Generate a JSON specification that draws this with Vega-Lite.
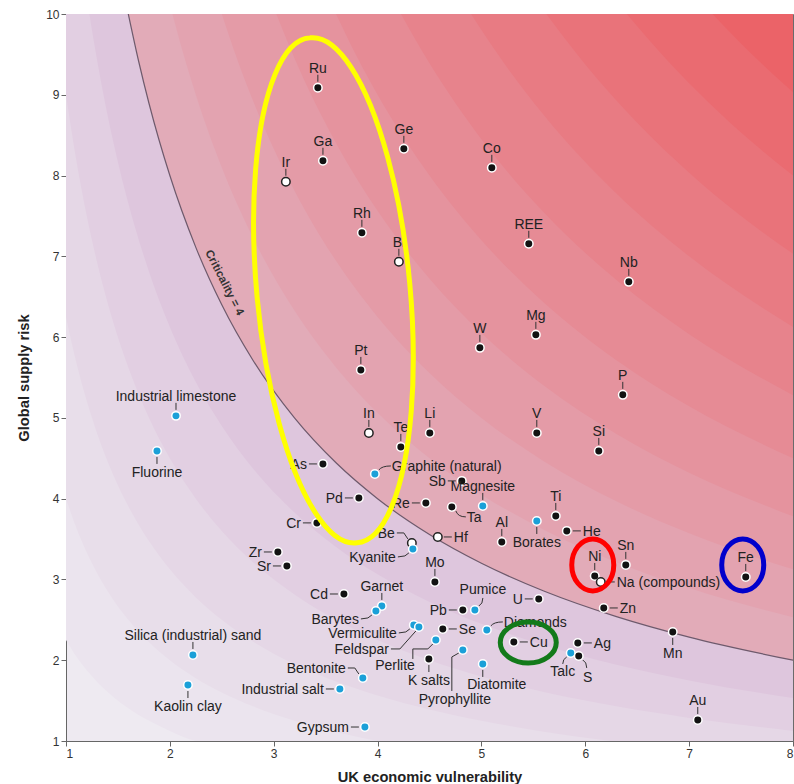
{
"$schema": "https://vega.github.io/schema/vega-lite/v6.json",
"width": 727, "height": 727,
"autosize": {"type": "none"},
"padding": {"left": 66, "top": 14, "right": 1, "bottom": 43},
"background": "white",
"config": {
  "view": {"stroke": "#6b6b6b", "strokeWidth": 1, "fill": "#eeeaf1"},
  "font": "Liberation Sans"
},
"datasets": {
"bands": [
{"level":1.5,"x":1,"y":2.25},{"level":1.5,"x":1.1,"y":2.045},{"level":1.5,"x":1.2,"y":1.875},{"level":1.5,"x":1.3,"y":1.731},{"level":1.5,"x":1.45,"y":1.552},{"level":1.5,"x":1.6,"y":1.406},{"level":1.5,"x":1.8,"y":1.25},{"level":1.5,"x":2,"y":1.125},{"level":1.5,"x":2.25,"y":1},{"level":1.5,"x":8,"y":0.281},
{"level":2,"x":1,"y":4},{"level":2,"x":1.1,"y":3.636},{"level":2,"x":1.2,"y":3.333},{"level":2,"x":1.3,"y":3.077},{"level":2,"x":1.45,"y":2.759},{"level":2,"x":1.6,"y":2.5},{"level":2,"x":1.8,"y":2.222},{"level":2,"x":2,"y":2},{"level":2,"x":2.25,"y":1.778},{"level":2,"x":2.5,"y":1.6},{"level":2,"x":2.8,"y":1.429},{"level":2,"x":3.2,"y":1.25},{"level":2,"x":3.6,"y":1.111},{"level":2,"x":4,"y":1},{"level":2,"x":8,"y":0.5},
{"level":2.5,"x":1,"y":6.25},{"level":2.5,"x":1.1,"y":5.682},{"level":2.5,"x":1.2,"y":5.208},{"level":2.5,"x":1.3,"y":4.808},{"level":2.5,"x":1.45,"y":4.31},{"level":2.5,"x":1.6,"y":3.906},{"level":2.5,"x":1.8,"y":3.472},{"level":2.5,"x":2,"y":3.125},{"level":2.5,"x":2.25,"y":2.778},{"level":2.5,"x":2.5,"y":2.5},{"level":2.5,"x":2.8,"y":2.232},{"level":2.5,"x":3.2,"y":1.953},{"level":2.5,"x":3.6,"y":1.736},{"level":2.5,"x":4,"y":1.563},{"level":2.5,"x":4.5,"y":1.389},{"level":2.5,"x":5,"y":1.25},{"level":2.5,"x":5.6,"y":1.116},{"level":2.5,"x":6.25,"y":1},{"level":2.5,"x":8,"y":0.781},
{"level":3,"x":1,"y":9},{"level":3,"x":1.1,"y":8.182},{"level":3,"x":1.2,"y":7.5},{"level":3,"x":1.3,"y":6.923},{"level":3,"x":1.45,"y":6.207},{"level":3,"x":1.6,"y":5.625},{"level":3,"x":1.8,"y":5},{"level":3,"x":2,"y":4.5},{"level":3,"x":2.25,"y":4},{"level":3,"x":2.5,"y":3.6},{"level":3,"x":2.8,"y":3.214},{"level":3,"x":3.2,"y":2.813},{"level":3,"x":3.6,"y":2.5},{"level":3,"x":4,"y":2.25},{"level":3,"x":4.5,"y":2},{"level":3,"x":5,"y":1.8},{"level":3,"x":5.6,"y":1.607},{"level":3,"x":6.3,"y":1.429},{"level":3,"x":7,"y":1.286},{"level":3,"x":8,"y":1.125},
{"level":3.5,"x":1.225,"y":10},{"level":3.5,"x":1.3,"y":9.423},{"level":3.5,"x":1.45,"y":8.448},{"level":3.5,"x":1.6,"y":7.656},{"level":3.5,"x":1.8,"y":6.806},{"level":3.5,"x":2,"y":6.125},{"level":3.5,"x":2.25,"y":5.444},{"level":3.5,"x":2.5,"y":4.9},{"level":3.5,"x":2.8,"y":4.375},{"level":3.5,"x":3.2,"y":3.828},{"level":3.5,"x":3.6,"y":3.403},{"level":3.5,"x":4,"y":3.063},{"level":3.5,"x":4.5,"y":2.722},{"level":3.5,"x":5,"y":2.45},{"level":3.5,"x":5.6,"y":2.188},{"level":3.5,"x":6.3,"y":1.944},{"level":3.5,"x":7,"y":1.75},{"level":3.5,"x":8,"y":1.531},
{"level":4,"x":1.6,"y":10},{"level":4,"x":1.7,"y":9.412},{"level":4,"x":1.8,"y":8.889},{"level":4,"x":2,"y":8},{"level":4,"x":2.25,"y":7.111},{"level":4,"x":2.5,"y":6.4},{"level":4,"x":2.8,"y":5.714},{"level":4,"x":3.2,"y":5},{"level":4,"x":3.6,"y":4.444},{"level":4,"x":4,"y":4},{"level":4,"x":4.5,"y":3.556},{"level":4,"x":5,"y":3.2},{"level":4,"x":5.6,"y":2.857},{"level":4,"x":6.3,"y":2.54},{"level":4,"x":7,"y":2.286},{"level":4,"x":8,"y":2},
{"level":4.5,"x":2.025,"y":10},{"level":4.5,"x":2.13,"y":9.507},{"level":4.5,"x":2.25,"y":9},{"level":4.5,"x":2.5,"y":8.1},{"level":4.5,"x":2.8,"y":7.232},{"level":4.5,"x":3.2,"y":6.328},{"level":4.5,"x":3.6,"y":5.625},{"level":4.5,"x":4,"y":5.063},{"level":4.5,"x":4.5,"y":4.5},{"level":4.5,"x":5,"y":4.05},{"level":4.5,"x":5.6,"y":3.616},{"level":4.5,"x":6.3,"y":3.214},{"level":4.5,"x":7,"y":2.893},{"level":4.5,"x":8,"y":2.531},
{"level":5,"x":2.5,"y":10},{"level":5,"x":2.65,"y":9.434},{"level":5,"x":2.8,"y":8.929},{"level":5,"x":3.2,"y":7.813},{"level":5,"x":3.6,"y":6.944},{"level":5,"x":4,"y":6.25},{"level":5,"x":4.5,"y":5.556},{"level":5,"x":5,"y":5},{"level":5,"x":5.6,"y":4.464},{"level":5,"x":6.3,"y":3.968},{"level":5,"x":7,"y":3.571},{"level":5,"x":8,"y":3.125},
{"level":5.5,"x":3.025,"y":10},{"level":5.5,"x":3.2,"y":9.453},{"level":5.5,"x":3.6,"y":8.403},{"level":5.5,"x":4,"y":7.563},{"level":5.5,"x":4.5,"y":6.722},{"level":5.5,"x":5,"y":6.05},{"level":5.5,"x":5.6,"y":5.402},{"level":5.5,"x":6.3,"y":4.802},{"level":5.5,"x":7,"y":4.321},{"level":5.5,"x":8,"y":3.781},
{"level":6,"x":3.6,"y":10},{"level":6,"x":3.8,"y":9.474},{"level":6,"x":4,"y":9},{"level":6,"x":4.5,"y":8},{"level":6,"x":5,"y":7.2},{"level":6,"x":5.6,"y":6.429},{"level":6,"x":6.3,"y":5.714},{"level":6,"x":7,"y":5.143},{"level":6,"x":8,"y":4.5},
{"level":6.5,"x":4.225,"y":10},{"level":6.5,"x":4.5,"y":9.389},{"level":6.5,"x":5,"y":8.45},{"level":6.5,"x":5.6,"y":7.545},{"level":6.5,"x":6.3,"y":6.706},{"level":6.5,"x":7,"y":6.036},{"level":6.5,"x":8,"y":5.281},
{"level":7,"x":4.9,"y":10},{"level":7,"x":5.2,"y":9.423},{"level":7,"x":5.6,"y":8.75},{"level":7,"x":6.3,"y":7.778},{"level":7,"x":7,"y":7},{"level":7,"x":8,"y":6.125},
{"level":7.5,"x":5.625,"y":10},{"level":7.5,"x":6,"y":9.375},{"level":7.5,"x":6.5,"y":8.654},{"level":7.5,"x":7,"y":8.036},{"level":7.5,"x":7.5,"y":7.5},{"level":7.5,"x":8,"y":7.031},
{"level":8,"x":6.4,"y":10},{"level":8,"x":6.8,"y":9.412},{"level":8,"x":7.2,"y":8.889},{"level":8,"x":7.6,"y":8.421},{"level":8,"x":8,"y":8},
{"level":8.5,"x":7.225,"y":10},{"level":8.5,"x":7.6,"y":9.507},{"level":8.5,"x":8,"y":9.031}
],
"el": [
{"name":"Ru","x":3.425,"y":9.087,"kind":"c","pos":"top"},
{"name":"Ga","x":3.474,"y":8.183,"kind":"c","pos":"top"},
{"name":"Ir","x":3.117,"y":7.923,"kind":"o","pos":"top"},
{"name":"Ge","x":4.253,"y":8.331,"kind":"c","pos":"top"},
{"name":"Co","x":5.100,"y":8.096,"kind":"c","pos":"top"},
{"name":"Rh","x":3.849,"y":7.291,"kind":"c","pos":"top"},
{"name":"Bi","x":4.205,"y":6.932,"kind":"o","pos":"top"},
{"name":"REE","x":5.456,"y":7.155,"kind":"c","pos":"top"},
{"name":"Nb","x":6.419,"y":6.684,"kind":"c","pos":"top"},
{"name":"W","x":4.985,"y":5.867,"kind":"c","pos":"top"},
{"name":"Mg","x":5.524,"y":6.028,"kind":"c","pos":"top"},
{"name":"Pt","x":3.839,"y":5.594,"kind":"c","pos":"top"},
{"name":"P","x":6.361,"y":5.285,"kind":"c","pos":"top"},
{"name":"In","x":3.916,"y":4.814,"kind":"o","pos":"top"},
{"name":"Te","x":4.224,"y":4.641,"kind":"c","pos":"top"},
{"name":"Li","x":4.503,"y":4.814,"kind":"c","pos":"top"},
{"name":"V","x":5.533,"y":4.814,"kind":"c","pos":"top"},
{"name":"Si","x":6.130,"y":4.591,"kind":"c","pos":"top"},
{"name":"As","x":3.474,"y":4.430,"kind":"c","pos":"left"},
{"name":"Graphite (natural)","x":3.974,"y":4.306,"kind":"m","pos":"rightup"},
{"name":"Sb","x":4.811,"y":4.220,"kind":"c","pos":"left"},
{"name":"Magnesite","x":5.013,"y":3.910,"kind":"m","pos":"top"},
{"name":"Pd","x":3.820,"y":4.009,"kind":"c","pos":"left"},
{"name":"Re","x":4.465,"y":3.947,"kind":"c","pos":"left"},
{"name":"Ta","x":4.715,"y":3.898,"kind":"c","pos":"rightlow"},
{"name":"Ti","x":5.716,"y":3.786,"kind":"c","pos":"top"},
{"name":"Borates","x":5.533,"y":3.724,"kind":"m","pos":"bottom"},
{"name":"He","x":5.822,"y":3.601,"kind":"c","pos":"right"},
{"name":"Cr","x":3.416,"y":3.700,"kind":"c","pos":"left"},
{"name":"Be","x":4.330,"y":3.452,"kind":"o","pos":"leftup"},
{"name":"Kyanite","x":4.340,"y":3.378,"kind":"m","pos":"leftlow"},
{"name":"Hf","x":4.580,"y":3.526,"kind":"o","pos":"right"},
{"name":"Al","x":5.196,"y":3.464,"kind":"c","pos":"top"},
{"name":"Zr","x":3.040,"y":3.340,"kind":"c","pos":"left"},
{"name":"Sr","x":3.127,"y":3.167,"kind":"c","pos":"left"},
{"name":"Mo","x":4.552,"y":2.969,"kind":"c","pos":"top"},
{"name":"Ni","x":6.091,"y":3.043,"kind":"c","pos":"top"},
{"name":"Sn","x":6.390,"y":3.180,"kind":"c","pos":"top"},
{"name":"Na (compounds)","x":6.149,"y":2.969,"kind":"o","pos":"right"},
{"name":"Fe","x":7.545,"y":3.031,"kind":"c","pos":"top"},
{"name":"Cd","x":3.676,"y":2.820,"kind":"c","pos":"left"},
{"name":"Garnet","x":4.041,"y":2.672,"kind":"m","pos":"top"},
{"name":"Barytes","x":3.984,"y":2.610,"kind":"m","pos":"leftlow"},
{"name":"Pumice","x":4.937,"y":2.622,"kind":"m","pos":"topright"},
{"name":"Pb","x":4.821,"y":2.622,"kind":"c","pos":"left"},
{"name":"U","x":5.552,"y":2.759,"kind":"c","pos":"left"},
{"name":"Zn","x":6.178,"y":2.647,"kind":"c","pos":"right"},
{"name":"Vermiculite","x":4.349,"y":2.437,"kind":"m","pos":"leftlow"},
{"name":"Feldspar","x":4.398,"y":2.412,"kind":"m","pos":"feldspar"},
{"name":"Se","x":4.628,"y":2.387,"kind":"c","pos":"right"},
{"name":"Diamonds","x":5.052,"y":2.375,"kind":"m","pos":"rightup"},
{"name":"Cu","x":5.312,"y":2.226,"kind":"c","pos":"right"},
{"name":"Ag","x":5.928,"y":2.214,"kind":"c","pos":"right"},
{"name":"Mn","x":6.842,"y":2.350,"kind":"c","pos":"bottom"},
{"name":"Perlite","x":4.561,"y":2.251,"kind":"m","pos":"perlite"},
{"name":"K salts","x":4.494,"y":2.015,"kind":"c","pos":"bottom"},
{"name":"Pyrophyllite","x":4.821,"y":2.127,"kind":"m","pos":"pyro"},
{"name":"Talc","x":5.860,"y":2.090,"kind":"m","pos":"talc"},
{"name":"S","x":5.937,"y":2.053,"kind":"c","pos":"sright"},
{"name":"Diatomite","x":5.013,"y":1.954,"kind":"m","pos":"diat"},
{"name":"Bentonite","x":3.858,"y":1.780,"kind":"m","pos":"leftup"},
{"name":"Industrial salt","x":3.637,"y":1.644,"kind":"m","pos":"left"},
{"name":"Gypsum","x":3.878,"y":1.173,"kind":"m","pos":"left"},
{"name":"Au","x":7.083,"y":1.260,"kind":"c","pos":"top"},
{"name":"Industrial limestone","x":2.059,"y":5.025,"kind":"m","pos":"top"},
{"name":"Fluorine","x":1.876,"y":4.591,"kind":"m","pos":"bottom"},
{"name":"Silica (industrial) sand","x":2.222,"y":2.065,"kind":"m","pos":"top"},
{"name":"Kaolin clay","x":2.174,"y":1.693,"kind":"m","pos":"bottom"}
],
"rings": [
{"ring":"yellow","x":3.575,"y":6.579},
{"ring":"red","x":6.072,"y":3.180},
{"ring":"blue","x":7.516,"y":3.180},
{"ring":"green","x":5.451,"y":2.220}
]
},
"encoding": {
  "x": {"field":"x","type":"quantitative","scale":{"domain":[1,8],"nice":false,"zero":false},
        "axis":{"values":[1,2,3,4,5,6,7,8],"format":"d","grid":false,"domainColor":"#666","tickColor":"#666","tickSize":5,"labelFontSize":12,"labelColor":"#333","labelPadding":2,"title":"UK economic vulnerability","titleFontSize":14.7,"titleFontWeight":"bold","titleColor":"#222","titleY":40,"titleBaseline":"alphabetic"}},
  "y": {"field":"y","type":"quantitative","scale":{"domain":[1,10],"nice":false,"zero":false},
        "axis":{"values":[1,2,3,4,5,6,7,8,9,10],"format":"d","grid":false,"domainColor":"#666","tickColor":"#666","tickSize":5,"labelFontSize":12,"labelColor":"#333","labelPadding":2,"title":"Global supply risk","titleFontSize":14.7,"titleFontWeight":"bold","titleColor":"#222","titleX":-38,"titleY":363.5,"titleBaseline":"alphabetic"}}
},
"layer": [
{"data":{"name":"bands"},
 "mark":{"type":"area","interpolate":"monotone","clip":true,"opacity":1},
 "encoding":{"y2":{"datum":10},
   "color":{"field":"level","type":"ordinal","legend":null,
     "scale":{"domain":[1.5,2,2.5,3,3.5,4,4.5,5,5.5,6,6.5,7,7.5,8,8.5],
              "range":["#ebe4ee","#e8deea","#e5d7e6","#e2cfe2","#dec6dd","#e2abb8","#e3a3b0","#e49ba7","#e5939e","#e68b95","#e7838c","#e87b83","#e9737a","#ea6b71","#eb6368"]}}}},
{"data":{"name":"bands"},"transform":[{"filter":"datum.level == 4"}],
 "mark":{"type":"line","interpolate":"monotone","clip":true,"color":"#6e5a6c","strokeWidth":1.2}},
{"data":{"values":[{"t":"Criticality = 4","x":2.521,"y":6.672}]},
 "mark":{"type":"text","angle":63,"fontSize":11.5,"fontWeight":"bold","color":"#333","align":"center","baseline":"middle"},
 "encoding":{"text":{"field":"t"}}},
{"data":{"name":"el"},
 "mark":{"type":"point","filled":false,"size":4,"strokeWidth":1,"color":"#333","opacity":1},
 "encoding":{"shape":{"field":"pos","type":"nominal","legend":null,
   "scale":{"domain":["top","bottom","left","right","rightup","rightlow","leftlow","leftup","feldspar","perlite","pyro","diat","sright","talc","topright"],
            "range":["M0,-6 L0,-13","M0,6 L0,13","M-6,0 L-14,0","M6,0 L14,0","M4,-4 Q7,-8 16,-8","M4,4 Q6,10 14,10","M-4,4 L-8,7 L-15,8","M-4,-4 L-8,-10 L-15,-10","M-3,4 L-19,22 L-28,22","M-3,4 L-8,9 L-23,9 L-23,19","M-4,3 L-11,7 L-11,41","M0,6 L0,13","M4,4 Q8,6 8,12","M-4,4 Q-8,6 -8,11","M4,-4 Q8,-6 8,-12"]}}}},
{"data":{"name":"el"},
 "mark":{"type":"circle","size":72,"strokeWidth":1.5,"opacity":1},
 "encoding":{
   "fill":{"field":"kind","type":"nominal","legend":null,"scale":{"domain":["c","o","m"],"range":["#121212","#ffffff","#1ba0d8"]}},
   "stroke":{"field":"kind","type":"nominal","legend":null,"scale":{"domain":["c","o","m"],"range":["#ffffff","#222222","#ffffff"]}}}},
{"data":{"name":"el"},"transform":[{"filter":"datum.pos == 'top'"}],
 "mark":{"type":"text","align":"center","baseline":"alphabetic","dy":-15,"fontSize":14,"color":"#222"},"encoding":{"text":{"field":"name"}}},
{"data":{"name":"el"},"transform":[{"filter":"datum.pos == 'bottom'"}],
 "mark":{"type":"text","align":"center","baseline":"alphabetic","dy":26,"fontSize":14,"color":"#222"},"encoding":{"text":{"field":"name"}}},
{"data":{"name":"el"},"transform":[{"filter":"datum.pos == 'left'"}],
 "mark":{"type":"text","align":"right","baseline":"alphabetic","dx":-16,"dy":5,"fontSize":14,"color":"#222"},"encoding":{"text":{"field":"name"}}},
{"data":{"name":"el"},"transform":[{"filter":"datum.pos == 'right'"}],
 "mark":{"type":"text","align":"left","baseline":"alphabetic","dx":16,"dy":5,"fontSize":14,"color":"#222"},"encoding":{"text":{"field":"name"}}},
{"data":{"name":"el"},"transform":[{"filter":"datum.pos == 'rightup'"}],
 "mark":{"type":"text","align":"left","baseline":"alphabetic","dx":17,"dy":-3,"fontSize":14,"color":"#222"},"encoding":{"text":{"field":"name"}}},
{"data":{"name":"el"},"transform":[{"filter":"datum.pos == 'rightlow'"}],
 "mark":{"type":"text","align":"left","baseline":"alphabetic","dx":15,"dy":15,"fontSize":14,"color":"#222"},"encoding":{"text":{"field":"name"}}},
{"data":{"name":"el"},"transform":[{"filter":"datum.pos == 'leftlow'"}],
 "mark":{"type":"text","align":"right","baseline":"alphabetic","dx":-17,"dy":13,"fontSize":14,"color":"#222"},"encoding":{"text":{"field":"name"}}},
{"data":{"name":"el"},"transform":[{"filter":"datum.pos == 'leftup'"}],
 "mark":{"type":"text","align":"right","baseline":"alphabetic","dx":-17,"dy":-5,"fontSize":14,"color":"#222"},"encoding":{"text":{"field":"name"}}},
{"data":{"name":"el"},"transform":[{"filter":"datum.pos == 'feldspar'"}],
 "mark":{"type":"text","align":"right","baseline":"alphabetic","dx":-30,"dy":27,"fontSize":14,"color":"#222"},"encoding":{"text":{"field":"name"}}},
{"data":{"name":"el"},"transform":[{"filter":"datum.pos == 'perlite'"}],
 "mark":{"type":"text","align":"right","baseline":"alphabetic","dx":-21,"dy":30,"fontSize":14,"color":"#222"},"encoding":{"text":{"field":"name"}}},
{"data":{"name":"el"},"transform":[{"filter":"datum.pos == 'pyro'"}],
 "mark":{"type":"text","align":"center","baseline":"alphabetic","dx":-8,"dy":54,"fontSize":14,"color":"#222"},"encoding":{"text":{"field":"name"}}},
{"data":{"name":"el"},"transform":[{"filter":"datum.pos == 'diat'"}],
 "mark":{"type":"text","align":"center","baseline":"alphabetic","dx":14,"dy":25,"fontSize":14,"color":"#222"},"encoding":{"text":{"field":"name"}}},
{"data":{"name":"el"},"transform":[{"filter":"datum.pos == 'sright'"}],
 "mark":{"type":"text","align":"center","baseline":"alphabetic","dx":9,"dy":26,"fontSize":14,"color":"#222"},"encoding":{"text":{"field":"name"}}},
{"data":{"name":"el"},"transform":[{"filter":"datum.pos == 'talc'"}],
 "mark":{"type":"text","align":"center","baseline":"alphabetic","dx":-8,"dy":23,"fontSize":14,"color":"#222"},"encoding":{"text":{"field":"name"}}},
{"data":{"name":"el"},"transform":[{"filter":"datum.pos == 'topright'"}],
 "mark":{"type":"text","align":"center","baseline":"alphabetic","dx":8,"dy":-16,"fontSize":14,"color":"#222"},"encoding":{"text":{"field":"name"}}},
{"data":{"name":"rings"},
 "mark":{"type":"point","filled":false,"size":4,"strokeWidth":5,"opacity":1},
 "encoding":{
   "shape":{"field":"ring","type":"nominal","legend":null,
     "scale":{"domain":["yellow","red","blue","green"],
              "range":["M-23.5,-252.5 A76,253.6 -5.3 1,1 23.5,252.5 A76,253.6 -5.3 1,1 -23.5,-252.5 Z","M0,-26 A21,26 0 1,1 0,26 A21,26 0 1,1 0,-26 Z","M0,-26 A21,26 0 1,1 0,26 A21,26 0 1,1 0,-26 Z","M-28,0 A28,20.5 0 1,1 28,0 A28,20.5 0 1,1 -28,0 Z"]}},
   "color":{"field":"ring","type":"nominal","legend":null,
     "scale":{"domain":["yellow","red","blue","green"],"range":["#ffff00","#ff0000","#0000cc","#137a1a"]}}}}
],
"resolve": {"scale": {"color": "independent", "shape": "independent", "fill": "independent", "stroke": "independent"}}
}
